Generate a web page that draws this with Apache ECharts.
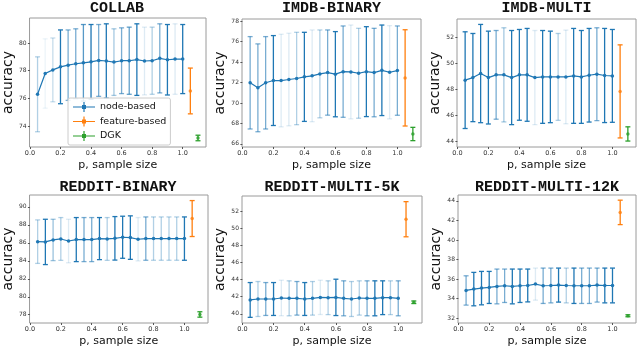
<!DOCTYPE html>
<html>
<head>
<meta charset="utf-8">
<script src="https://cdn.jsdelivr.net/npm/echarts@6/dist/echarts.min.js"></script>
<style>
  html, body { margin: 0; padding: 0; background: #fff; }
  #chart { width: 640px; height: 349px; }
</style>
</head>
<body>
<div id="chart"></div>
<script>
// sample sizes p
const pValues = [0.05, 0.1, 0.15, 0.2, 0.25, 0.3, 0.35, 0.4, 0.45, 0.5, 0.55, 0.6, 0.65, 0.7, 0.75, 0.8, 0.85, 0.9, 0.95, 1.0];
const xTicks = [0, 0.2, 0.4, 0.6, 0.8, 1.0];
const featureX = 1.05;
const dgkX = 1.1;

const titles = ['COLLAB', 'IMDB-BINARY', 'IMDB-MULTI', 'REDDIT-BINARY', 'REDDIT-MULTI-5K', 'REDDIT-MULTI-12K'];

// COLLAB
const collabMean = [76.3, 77.8, 78.06, 78.28, 78.4, 78.5, 78.57, 78.64, 78.74, 78.7, 78.62, 78.72, 78.72, 78.8, 78.7, 78.72, 78.89, 78.79, 78.84, 78.84];
const collabErr = [2.7, 2.5, 2.3, 2.66, 2.54, 2.52, 2.76, 2.69, 2.59, 2.68, 2.4, 2.37, 2.42, 2.58, 2.44, 2.42, 2.49, 2.54, 2.54, 2.49];
const collabFeature = [76.54, 1.65];
const collabDgk = [73.15, 0.2];
const collabTicks = [74, 76, 78, 80];

// IMDB-BINARY
const imdbBMean = [71.97, 71.48, 71.97, 72.19, 72.19, 72.29, 72.39, 72.55, 72.65, 72.84, 72.97, 72.81, 73.06, 73.03, 72.9, 73.06, 72.97, 73.19, 73.0, 73.16];
const imdbBErr = [4.51, 4.29, 4.51, 4.39, 4.52, 4.52, 4.51, 4.35, 4.48, 4.29, 4.16, 4.16, 4.46, 4.58, 4.39, 4.39, 4.32, 4.42, 4.55, 4.36];
const imdbBFeature = [72.45, 4.7];
const imdbBDgk = [66.97, 0.65];
const imdbBTicks = [66, 68, 70, 72, 74, 76, 78];

// IMDB-MULTI
const imdbMMean = [48.72, 48.92, 49.23, 48.92, 49.13, 49.13, 48.92, 49.13, 49.13, 48.92, 48.97, 48.97, 48.97, 48.97, 49.05, 48.97, 49.1, 49.18, 49.08, 49.05];
const imdbMErr = [3.74, 3.41, 3.8, 3.59, 3.43, 3.64, 3.64, 3.51, 3.59, 3.64, 3.59, 3.54, 3.36, 3.62, 3.67, 3.59, 3.62, 3.59, 3.64, 3.59];
const imdbMFeature = [47.85, 3.6];
const imdbMDgk = [44.56, 0.55];
const imdbMTicks = [44, 46, 48, 50, 52];

// REDDIT-BINARY
const redBMean = [86.13, 86.1, 86.32, 86.43, 86.2, 86.36, 86.36, 86.36, 86.47, 86.43, 86.5, 86.62, 86.58, 86.4, 86.47, 86.47, 86.47, 86.47, 86.47, 86.47];
const redBErr = [2.42, 2.52, 2.3, 2.38, 2.42, 2.45, 2.45, 2.45, 2.34, 2.38, 2.42, 2.34, 2.42, 2.41, 2.41, 2.41, 2.41, 2.41, 2.41, 2.41];
const redBFeature = [88.7, 2.0];
const redBDgk = [78.03, 0.3];
const redBTicks = [78, 80, 82, 84, 86, 88, 90];

// REDDIT-MULTI-5K
const red5Mean = [41.62, 41.73, 41.73, 41.73, 41.85, 41.81, 41.81, 41.73, 41.81, 41.92, 41.88, 41.92, 41.81, 41.73, 41.85, 41.81, 41.81, 41.88, 41.88, 41.81];
const red5Err = [2.03, 2.04, 1.92, 1.92, 2.07, 2.04, 1.96, 1.92, 1.96, 2.0, 1.97, 2.12, 2.04, 2.04, 2.0, 2.04, 2.04, 1.97, 1.97, 2.04];
const red5Feature = [51.04, 2.05];
const red5Dgk = [41.35, 0.15];
const red5Ticks = [40, 42, 44, 46, 48, 50, 52];

// REDDIT-MULTI-12K
const red12Mean = [34.83, 34.97, 35.07, 35.14, 35.24, 35.31, 35.24, 35.31, 35.34, 35.48, 35.31, 35.34, 35.38, 35.34, 35.31, 35.31, 35.31, 35.38, 35.34, 35.34];
const red12Err = [1.5, 1.71, 1.71, 1.64, 1.78, 1.71, 1.78, 1.71, 1.68, 1.64, 1.81, 1.78, 1.74, 1.78, 1.81, 1.81, 1.81, 1.74, 1.78, 1.78];
const red12Feature = [42.82, 1.25];
const red12Dgk = [32.24, 0.1];
const red12Ticks = [32, 34, 36, 38, 40, 42, 44];

// 误差线透明度（样式，与数据分开）
const barAlpha = [
  [0.35, 0.08, 0.25, 1, 0.6, 0.6, 0.75, 1, 0.6, 1, 0.4, 0.6, 0.7, 1, 0.15, 0.35, 0.6, 1, 0.15, 1],
  [0.6, 0.6, 0.6, 1, 0.15, 0.15, 0.35, 1, 0.15, 0.35, 0.6, 1, 0.6, 0.15, 0.35, 1, 0.6, 1, 0.15, 0.6],
  [1, 1, 1, 1, 0.6, 0.4, 1, 1, 1, 0.15, 1, 1, 0.35, 0.15, 1, 1, 1, 0.6, 1, 1],
  [0.35, 1, 0.45, 0.35, 0.15, 1, 0.6, 0.6, 1, 0.35, 1, 1, 1, 0.15, 0.6, 0.35, 0.35, 0.35, 0.35, 1],
  [1, 0.35, 0.6, 1, 0.15, 0.35, 0.6, 1, 0.35, 0.15, 0.35, 1, 0.6, 0.35, 0.35, 0.6, 1, 1, 0.35, 0.6],
  [0.6, 1, 1, 1, 0.6, 0.6, 1, 1, 1, 0.15, 0.6, 0.6, 1, 0.35, 1, 0.6, 0.6, 0.6, 1, 1]
];

const panels = [
  { mean: collabMean, err: collabErr, feat: collabFeature, dgk: collabDgk, ticks: collabTicks },
  { mean: imdbBMean, err: imdbBErr, feat: imdbBFeature, dgk: imdbBDgk, ticks: imdbBTicks },
  { mean: imdbMMean, err: imdbMErr, feat: imdbMFeature, dgk: imdbMDgk, ticks: imdbMTicks },
  { mean: redBMean, err: redBErr, feat: redBFeature, dgk: redBDgk, ticks: redBTicks },
  { mean: red5Mean, err: red5Err, feat: red5Feature, dgk: red5Dgk, ticks: red5Ticks },
  { mean: red12Mean, err: red12Err, feat: red12Feature, dgk: red12Dgk, ticks: red12Ticks }
];

// 布局：每个子图的绘图区和y轴范围
const layout = [
  { left: 28, top: 18, width: 178, height: 129, ymin: 72.5, ymax: 81.8 },
  { left: 242, top: 19, width: 179, height: 128, ymin: 65.7, ymax: 78.2 },
  { left: 457, top: 19, width: 179, height: 128, ymin: 43.55, ymax: 53.45 },
  { left: 28, top: 195, width: 180, height: 128, ymin: 77.08, ymax: 91.32 },
  { left: 242, top: 196, width: 180, height: 127, ymin: 38.93, ymax: 53.75 },
  { left: 458, top: 195, width: 178, height: 128, ymin: 31.5, ymax: 44.6 }
];

const BLUE = '#1f77b4', ORANGE = '#ff7f0e', GREEN = '#2ca02c';
const tickFont = 'DejaVu Sans';

function errorBarItem(color, alphaList) {
  return function (params, api) {
    const x = api.value(0), y = api.value(1), e = api.value(2);
    const top = api.coord([x, y + e]);
    const bot = api.coord([x, y - e]);
    const a = alphaList ? alphaList[params.dataIndex] : 1;
    const st = { stroke: color, lineWidth: 1.3, opacity: a };
    return {
      type: 'group',
      children: [
        { type: 'line', shape: { x1: top[0], y1: top[1], x2: bot[0], y2: bot[1] }, style: st },
        { type: 'line', shape: { x1: top[0] - 2.5, y1: top[1], x2: top[0] + 2.5, y2: top[1] }, style: st },
        { type: 'line', shape: { x1: bot[0] - 2.5, y1: bot[1], x2: bot[0] + 2.5, y2: bot[1] }, style: st }
      ]
    };
  };
}

const grids = [], xAxes = [], yAxes = [], series = [], graphics = [];

panels.forEach((pn, i) => {
  const L = layout[i];
  grids.push({ left: L.left, top: L.top, width: L.width, height: L.height, show: true, borderColor: '#9a9a9a', borderWidth: 1, backgroundColor: '#fff' });
  xAxes.push({
    type: 'value', gridIndex: i, min: -0.0025, max: 1.1525,
    axisLine: { show: false },
    axisTick: { show: true, length: 2, customValues: xTicks, lineStyle: { color: '#555' } },
    axisLabel: { customValues: xTicks, formatter: v => v.toFixed(1), fontSize: 6.5, color: '#333', fontFamily: tickFont, margin: 3 },
    splitLine: { show: false },
    name: 'p, sample size', nameLocation: 'middle', nameGap: 13,
    nameTextStyle: { fontSize: 11, color: '#111', fontFamily: 'DejaVu Sans' }
  });
  yAxes.push({
    type: 'value', gridIndex: i, min: L.ymin, max: L.ymax,
    axisLine: { show: false },
    axisTick: { show: true, length: 2, customValues: pn.ticks, lineStyle: { color: '#555' } },
    axisLabel: { customValues: pn.ticks, fontSize: 6, color: '#333', fontFamily: tickFont, margin: 3 },
    splitLine: { show: false },
    name: 'accuracy', nameLocation: 'middle', nameGap: 13,
    nameTextStyle: { fontSize: 14, color: '#111', fontFamily: 'DejaVu Sans' }
  });

  const nodeData = pValues.map((p, k) => [p, pn.mean[k], pn.err[k]]);
  series.push({
    name: 'node-based', type: 'custom', xAxisIndex: i, yAxisIndex: i,
    renderItem: errorBarItem(BLUE, barAlpha[i]), data: nodeData, color: BLUE, z: 2
  });
  series.push({
    name: 'node-based', type: 'line', xAxisIndex: i, yAxisIndex: i,
    data: pValues.map((p, k) => [p, pn.mean[k]]), color: BLUE,
    lineStyle: { width: 1.2 }, symbol: 'circle', symbolSize: 3.5, showSymbol: true,
    itemStyle: { color: BLUE }, z: 3, animation: false
  });
  series.push({
    name: 'feature-based', type: 'custom', xAxisIndex: i, yAxisIndex: i,
    renderItem: errorBarItem(ORANGE), data: [[featureX, pn.feat[0], pn.feat[1]]], color: ORANGE, z: 2
  });
  series.push({
    name: 'feature-based', type: 'scatter', xAxisIndex: i, yAxisIndex: i,
    data: [[featureX, pn.feat[0]]], symbol: 'circle', symbolSize: 3.5, itemStyle: { color: ORANGE }, z: 3
  });
  series.push({
    name: 'DGK', type: 'custom', xAxisIndex: i, yAxisIndex: i,
    renderItem: errorBarItem(GREEN), data: [[dgkX, pn.dgk[0], pn.dgk[1]]], color: GREEN, z: 2
  });
  series.push({
    name: 'DGK', type: 'scatter', xAxisIndex: i, yAxisIndex: i,
    data: [[dgkX, pn.dgk[0]]], symbol: 'circle', symbolSize: 3.5, itemStyle: { color: GREEN }, z: 3
  });

  graphics.push({
    type: 'text', x: L.left + L.width / 2, y: i < 3 ? 8 : 187,
    style: { text: titles[i], font: 'bold 15px "Liberation Mono"', fill: '#111', align: 'center', verticalAlign: 'middle' }
  });
});

// 图例图标：横线 + 误差竖线 + 点
const legendIcon = 'path://M0,4.4L22,4.4L22,5.6L0,5.6Z M10.4,0L11.6,0L11.6,10L10.4,10Z M9,3L13,3L13,7L9,7Z';

const option = {
  animation: false,
  grid: grids,
  xAxis: xAxes,
  yAxis: yAxes,
  series: series,
  graphic: graphics,
  legend: {
    left: 68, top: 98, orient: 'vertical',
    data: [
      { name: 'node-based', icon: legendIcon, itemStyle: { color: BLUE } },
      { name: 'feature-based', icon: legendIcon, itemStyle: { color: ORANGE } },
      { name: 'DGK', icon: legendIcon, itemStyle: { color: GREEN } }
    ],
    itemWidth: 22, itemHeight: 10, itemGap: 4.5,
    padding: [4, 4, 4, 5],
    backgroundColor: 'rgba(255,255,255,0.85)',
    borderColor: '#ccc', borderWidth: 1, borderRadius: 2,
    textStyle: { fontSize: 9.5, color: '#111', fontFamily: 'DejaVu Sans' },
    z: 10
  }
};

const chart = echarts.init(document.getElementById('chart'));
chart.setOption(option);
</script>
</body>
</html>
